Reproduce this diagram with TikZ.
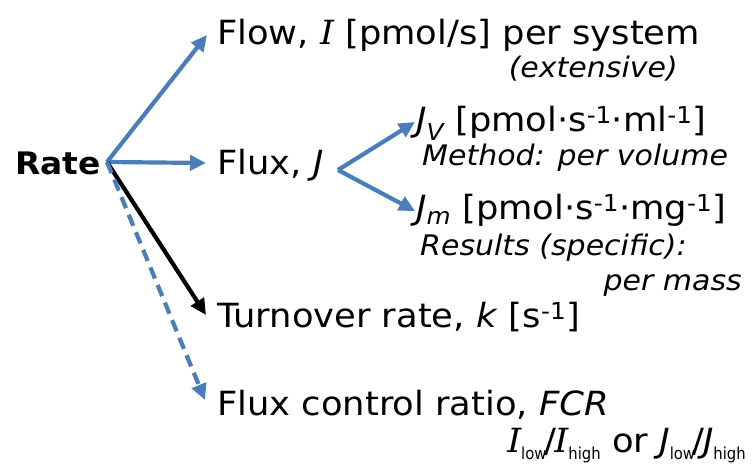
\documentclass[tikz,border=0pt]{standalone}
\usepackage{fontspec}
\setmainfont{DejaVu Sans}[FakeStretch=1.06]
\newfontfamily\serifit{DejaVu Serif}[FakeStretch=1.06]
\newfontfamily\condfont{DejaVu Sans}[FakeStretch=0.9]
\usetikzlibrary{arrows.meta}
\definecolor{arrblue}{HTML}{4A7EBB}
\tikzset{
  txt/.style={inner sep=0pt, anchor=base west, font=\fontsize{33.3bp}{40bp}\selectfont},
  txtr/.style={inner sep=0pt, anchor=base east, font=\fontsize{33.3bp}{40bp}\selectfont},
  sub/.style={inner sep=0pt, anchor=base west, font=\fontsize{28.3bp}{34bp}\selectfont\itshape},
  subr/.style={inner sep=0pt, anchor=base east, font=\fontsize{28.3bp}{34bp}\selectfont\itshape},
  conn/.style={line width=4.2bp, -{Triangle[length=16bp,width=15bp]}},
  blueconn/.style={conn, draw=arrblue},
  blackconn/.style={conn, draw=black},
}
\newcommand{\serI}{{\serifit\itshape I}}
\newcommand{\lsub}[1]{\raisebox{-0.24em}{\condfont\fontsize{16.5bp}{17bp}\selectfont #1}}
\newcommand{\sls}{\kern-2.5bp/\kern-1.5bp}
\begin{document}
\begin{tikzpicture}[x=1bp,y=-1bp]
\useasboundingbox (0,0) rectangle (752,468);
\node[txt, font=\fontsize{31bp}{38bp}\selectfont\bfseries] (rate) at (15,175) {Rate};
\node[txt] (flow) at (217,45) {Flow, \serI{} [pmol/s] per system};
\node[subr] (ext) at (678,78) {(extensive)};
\node[txt] (flux) at (217,175) {Flux, \textit{J}};
\node[txt] (jv) at (416,132) {\textit{J\textsubscript{V}} [pmol·s\textsuperscript{-1}·ml\textsuperscript{-1}]};
\node[sub] (method) at (422,166) {Method: per volume};
\node[txt] (jm) at (416,220) {\textit{J\textsubscript{m}} [pmol·s\textsuperscript{-1}·mg\textsuperscript{-1}]};
\node[sub] (results) at (420,256) {Results (specific):};
\node[subr] (permass) at (742,291) {per mass};
\node[txt] (turn) at (217,328) {Turnover rate, \textit{k} [s\textsuperscript{-1}]};
\node[txt] (fcr) at (217,415) {Flux control ratio, \textit{FCR}};
\node[txtr] (ratio) at (746,452) {\serI\lsub{low}\sls\serI\lsub{high} or \textit{J}\lsub{low}\sls\textit{J}\lsub{high}};
\coordinate (o) at (107,162);
\coordinate (f) at (338,170);
\draw[blueconn] (o) -- ([shift={(-10,-10)}]flow.base west);
\draw[blueconn] (o) -- ([shift={(-11,-12)}]flux.base west);
\draw[blackconn] (o) -- ([shift={(-11,-13)}]turn.base west);
\draw[blueconn, dash pattern=on 12bp off 7bp] (o) -- ([shift={(-12,-15)}]fcr.base west);
\draw[blueconn] (f) -- ([shift={(-1,-10)}]jv.base west);
\draw[blueconn] (f) -- ([shift={(-1,-9)}]jm.base west);
\end{tikzpicture}
\end{document}
